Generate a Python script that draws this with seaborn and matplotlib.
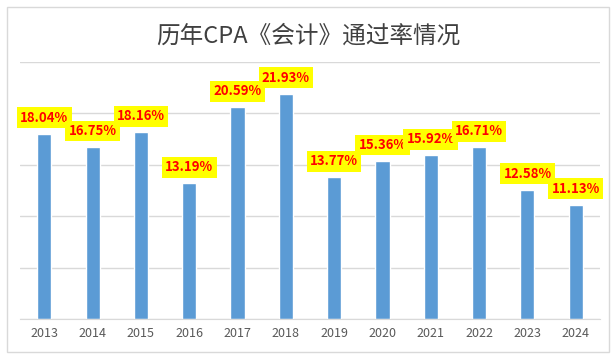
import matplotlib
matplotlib.use("Agg")
import matplotlib.pyplot as plt
import seaborn as sns
import pandas as pd

years = ["2013", "2014", "2015", "2016", "2017", "2018",
         "2019", "2020", "2021", "2022", "2023", "2024"]
rates = [18.04, 16.75, 18.16, 13.19, 20.59, 21.93,
         13.77, 15.36, 15.92, 16.71, 12.58, 11.13]
labels = ["18.04%", "16.75%", "18.16%", "13.19%", "20.59%", "21.93%",
          "13.77%", "15.36%", "15.92%", "16.71%", "12.58%", "11.13%"]

df = pd.DataFrame({"year": years, "rate": rates})

sns.set_style("white")
plt.rcParams["font.family"] = ["Noto Sans CJK SC", "DejaVu Sans"]

fig = plt.figure(figsize=(6.16, 3.59), dpi=100)
ax = fig.add_axes([0.0325, 0.1114, 0.9415, 0.7158])

sns.barplot(data=df, x="year", y="rate", color="#5B9BD5", width=0.29,
            saturation=1, ax=ax)

ax.set_ylim(0, 25)
ax.set_xlim(-0.5, 11.5)
ax.set_yticks([0, 5, 10, 15, 20, 25])
ax.set_yticklabels([])
ax.yaxis.grid(True, color="#D9D9D9", linewidth=1)
ax.set_axisbelow(True)
for s in ["left", "right", "top"]:
    ax.spines[s].set_visible(False)
ax.spines["bottom"].set_color("#D9D9D9")
ax.tick_params(axis="x", length=0, labelsize=9, colors="#595959", pad=6)
ax.tick_params(axis="y", length=0)
ax.set_xlabel("")
ax.set_ylabel("")

for i, (v, t) in enumerate(zip(rates, labels)):
    ax.annotate(t, (i, v), xytext=(0, 11.5), textcoords="offset points",
                ha="center", va="center", color="#FF0000", fontsize=9.5,
                fontweight="bold",
                bbox=dict(boxstyle="square,pad=0.25", fc="#FFFF00", ec="none"))

fig.text(0.5, 0.9, "历年CPA《会计》通过率情况", ha="center", va="center",
         fontsize=17, fontweight="medium", color="#404040")

# outer chart border
fig.patches.append(plt.Rectangle((0.012, 0.02), 0.976, 0.96, transform=fig.transFigure,
                                 fill=False, edgecolor="#D9D9D9", linewidth=1))

fig.savefig("out.png", dpi=100)
